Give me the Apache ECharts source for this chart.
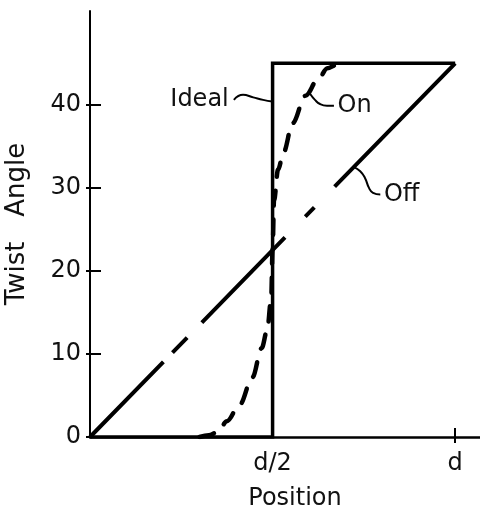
<!DOCTYPE html>
<html><head><meta charset="utf-8">
<script src="https://cdn.jsdelivr.net/npm/echarts@6/dist/echarts.min.js"></script>
<style>html,body{margin:0;padding:0;background:#fff}#c{width:480px;height:511px}</style>
</head><body><div id="c"></div>
<script>
// ---- data ----
const yTickValues = [0, 10, 20, 30, 40];
const xTickValues = [0.5, 1];
const xTickLabels = ['d/2', 'd'];
const xName = 'Position';
const yName = 'Twist   Angle';

const idealX = [0, 0.5, 0.5, 1];
const idealY = [0, 0, 45, 45];

const offX = [0, 1];
const offY = [0, 45];

const onX = [0.30, 0.325, 0.35, 0.375, 0.41, 0.445, 0.47, 0.485, 0.496, 0.5, 0.504, 0.515, 0.53, 0.555, 0.59, 0.625, 0.65, 0.675, 0.70];
const onY = [0, 0.2, 0.6, 1.9, 3.9, 7.2, 10.7, 12.8, 16.5, 22.5, 28.5, 32.2, 34.3, 37.8, 41.1, 43.1, 44.4, 44.8, 45];

const idealLeaderX = [0.394, 0.419, 0.447, 0.474, 0.499];
const idealLeaderY = [40.6, 41.2, 40.9, 40.6, 40.4];
const onLeaderX = [0.603, 0.616, 0.630, 0.649, 0.668];
const onLeaderY = [41.3, 40.6, 40.1, 39.9, 39.9];
const offLeaderX = [0.723, 0.740, 0.753, 0.764, 0.775, 0.795];
const offLeaderY = [32.5, 32.0, 31.2, 30.0, 29.4, 29.2];

const annotationNames = ['Ideal', 'On', 'Off'];
const annotationX = [0.380, 0.678, 0.805];
const annotationY = [40.6, 39.9, 29.2];
const annotationAlign = ['right', 'left', 'left'];

// ---- build ----
const zip = (xs, ys) => xs.map((x, i) => [x, ys[i]]);
const FONT = 'DejaVu Sans';
const INK = '#000';
const TEXT = '#111';

const leaderStyle = { color: INK, width: 2, type: 'solid' };
function leader(xs, ys) {
  return { type: 'line', data: zip(xs, ys), symbol: 'none', smooth: 0.5,
           lineStyle: leaderStyle, silent: true, z: 4 };
}

const option = {
  animation: false,
  backgroundColor: '#fff',
  grid: { left: 90, right: 0, top: 11, bottom: 74, containLabel: false, outerBoundsMode: 'none' },
  xAxis: [{
    type: 'value', min: 0, max: 1.068,
    axisLine: { show: true, lineStyle: { color: INK, width: 2.5 } },
    splitLine: { show: false },
    axisTick: { show: true, inside: true, length: 9, lineStyle: { color: INK, width: 2 }, customValues: xTickValues },
    axisLabel: { show: true, margin: 15, color: TEXT, fontFamily: FONT, fontSize: 24,
                 customValues: xTickValues,
                 formatter: v => xTickLabels[xTickValues.indexOf(v)] },
    name: xName, nameLocation: 'middle', nameGap: 50,
    nameTextStyle: { color: TEXT, fontFamily: FONT, fontSize: 24, padding: [0, 0, 0, 20] }
  }, {
    type: 'value', min: 0, max: 1.068, position: 'bottom',
    axisLine: { show: false }, splitLine: { show: false }, axisLabel: { show: false },
    axisTick: { show: true, inside: false, length: 6, lineStyle: { color: INK, width: 2 }, customValues: [xTickValues[1]] }
  }],
  yAxis: [{
    type: 'value', min: 0, max: 51.3,
    axisLine: { show: true, lineStyle: { color: INK, width: 2 } },
    splitLine: { show: false },
    axisTick: { show: true, inside: true, length: 11, lineStyle: { color: INK, width: 2 }, customValues: yTickValues },
    axisLabel: { show: true, margin: 9, color: TEXT, fontFamily: FONT, fontSize: 24, customValues: yTickValues },
    name: yName, nameLocation: 'middle', nameGap: 60, nameRotate: 90,
    nameTextStyle: { color: TEXT, fontFamily: FONT, fontSize: 26 }
  }, {
    type: 'value', min: 0, max: 51.3, position: 'left', offset: 0,
    axisLine: { show: false }, splitLine: { show: false }, axisLabel: { show: false },
    axisTick: { show: true, inside: false, length: 4, lineStyle: { color: INK, width: 2 }, customValues: yTickValues }
  }],
  series: [
    { type: 'line', name: 'Off', data: zip(offX, offY), symbol: 'none', z: 3,
      lineStyle: { color: INK, width: 4, cap: 'butt',
                   type: [105, 13, 21, 21, 119, 29, 13, 29, 175] } },
    { type: 'line', name: 'On', data: zip(onX, onY), symbol: 'none', z: 3,
      smooth: 0.35, smoothMonotone: 'x',
      lineStyle: { color: INK, width: 4.5, cap: 'round', type: [15, 14] } },
    { type: 'line', name: 'Ideal', data: zip(idealX, idealY), symbol: 'none', z: 5,
      lineStyle: { color: INK, width: 3.5, join: 'miter' } },
    leader(idealLeaderX, idealLeaderY),
    leader(onLeaderX, onLeaderY),
    leader(offLeaderX, offLeaderY)
  ]
};

const chart = echarts.init(document.getElementById('c'), null, { renderer: 'canvas' });
chart.setOption(option);

// annotation texts placed through the chart's own scales
const graphics = annotationNames.map((n, i) => {
  const p = chart.convertToPixel({ gridIndex: 0 }, [annotationX[i], annotationY[i]]);
  return { type: 'text', x: p[0], y: p[1], z: 10, silent: true,
           style: { text: n, fill: TEXT, font: '24px "' + FONT + '"',
                    align: annotationAlign[i], verticalAlign: 'middle' } };
});
chart.setOption({ graphic: graphics });
</script>
</body></html>
